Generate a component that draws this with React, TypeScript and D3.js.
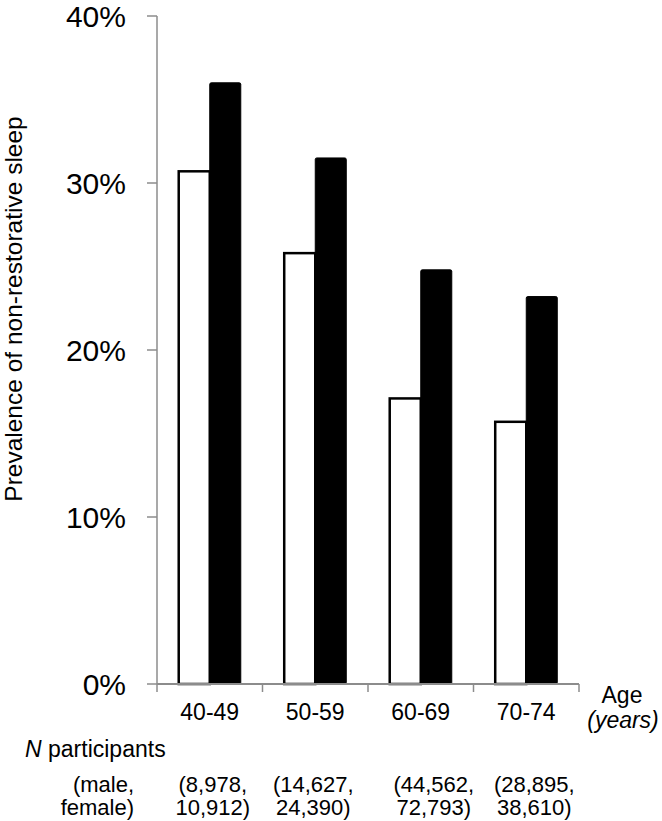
import React from "react";
import * as d3 from "d3";

const categories = ["40-49", "50-59", "60-69", "70-74"];
const maleValues = [30.7, 25.8, 17.1, 15.7];
const femaleValues = [36.0, 31.5, 24.8, 23.2];
const nMale = ["(8,978,", "(14,627,", "(44,562,", "(28,895,"];
const nFemale = ["10,912)", "24,390)", "72,793)", "38,610)"];
const yTicks = [0, 10, 20, 30, 40];

const W = 662;
const H = 821;
const left = 157;
const right = 579;
const top = 16;
const bottom = 684;
const FONT = "'Liberation Sans', Arial, sans-serif";
const nShift = [3, -2, 13, 8];

export default function App() {
  const x = d3.scaleBand<string>().domain(categories).range([left, right]).paddingInner(0).paddingOuter(0);
  const y = d3.scaleLinear().domain([0, 40]).range([bottom, top]);
  const bw = x.bandwidth();
  const barW = bw / 1.7 / 2;
  const center = (c: string) => (x(c) as number) + bw / 2;
  const axisColor = "#8c8c8c";

  return (
    <div style={{ position: "absolute", left: 0, top: 0 }}>
      <svg width={W} height={H} style={{ display: "block", background: "#fff" }} fontFamily={FONT}>
        {categories.map((c, i) => {
          const cx = center(c);
          return (
            <g key={c}>
              <rect
                x={cx - barW}
                y={y(maleValues[i])}
                width={barW}
                height={bottom - y(maleValues[i])}
                fill="#fff"
                stroke="#000"
                strokeWidth={2.5}
              />
              <rect
                x={cx}
                y={y(femaleValues[i])}
                width={barW}
                height={bottom - y(femaleValues[i])}
                fill="#000"
                stroke="#000"
                strokeWidth={1}
                rx={1.5}
              />
            </g>
          );
        })}
        <line x1={left} x2={left} y1={top} y2={bottom} stroke={axisColor} strokeWidth={1.5} />
        {yTicks.map((t) => (
          <g key={t}>
            <line x1={left - 10} x2={left} y1={y(t)} y2={y(t)} stroke={axisColor} strokeWidth={1.5} />
            <text x={126} y={y(t)} dy="0.36em" textAnchor="end" fontSize={30} fill="#000">
              {t}%
            </text>
          </g>
        ))}
        <line x1={left} x2={right} y1={bottom} y2={bottom} stroke={axisColor} strokeWidth={2} />
        {[...categories.map((c) => x(c) as number), right].map((tx, i) => (
          <line key={i} x1={tx} x2={tx} y1={bottom} y2={bottom + 8} stroke={axisColor} strokeWidth={1.5} />
        ))}
        {categories.map((c) => (
          <text key={c} x={center(c)} y={720} textAnchor="middle" fontSize={23} fill="#000">
            {c}
          </text>
        ))}
        <text x={622} y={703} textAnchor="middle" fontSize={23} fill="#000">Age</text>
        <text x={623} y={728} textAnchor="middle" fontSize={23} fontStyle="italic" fill="#000">(years)</text>
        <text x={25} y={757} fontSize={23} fill="#000">
          <tspan fontStyle="italic">N</tspan> participants
        </text>
        <text x={134} y={792} textAnchor="end" fontSize={22} fill="#000">(male,</text>
        <text x={134} y={815} textAnchor="end" fontSize={22} fill="#000">female)</text>
        {categories.map((c, i) => (
          <g key={"n" + c}>
            <text x={center(c) + nShift[i]} y={792} textAnchor="middle" fontSize={22} fill="#000">
              {nMale[i]}
            </text>
            <text x={center(c) + nShift[i]} y={815} textAnchor="middle" fontSize={22} fill="#000">
              {nFemale[i]}
            </text>
          </g>
        ))}
        <text
          transform={`translate(22, 309) rotate(-90)`}
          textAnchor="middle"
          fontSize={24.5}
          fill="#000"
        >
          Prevalence of non-restorative sleep
        </text>
      </svg>
    </div>
  );
}
